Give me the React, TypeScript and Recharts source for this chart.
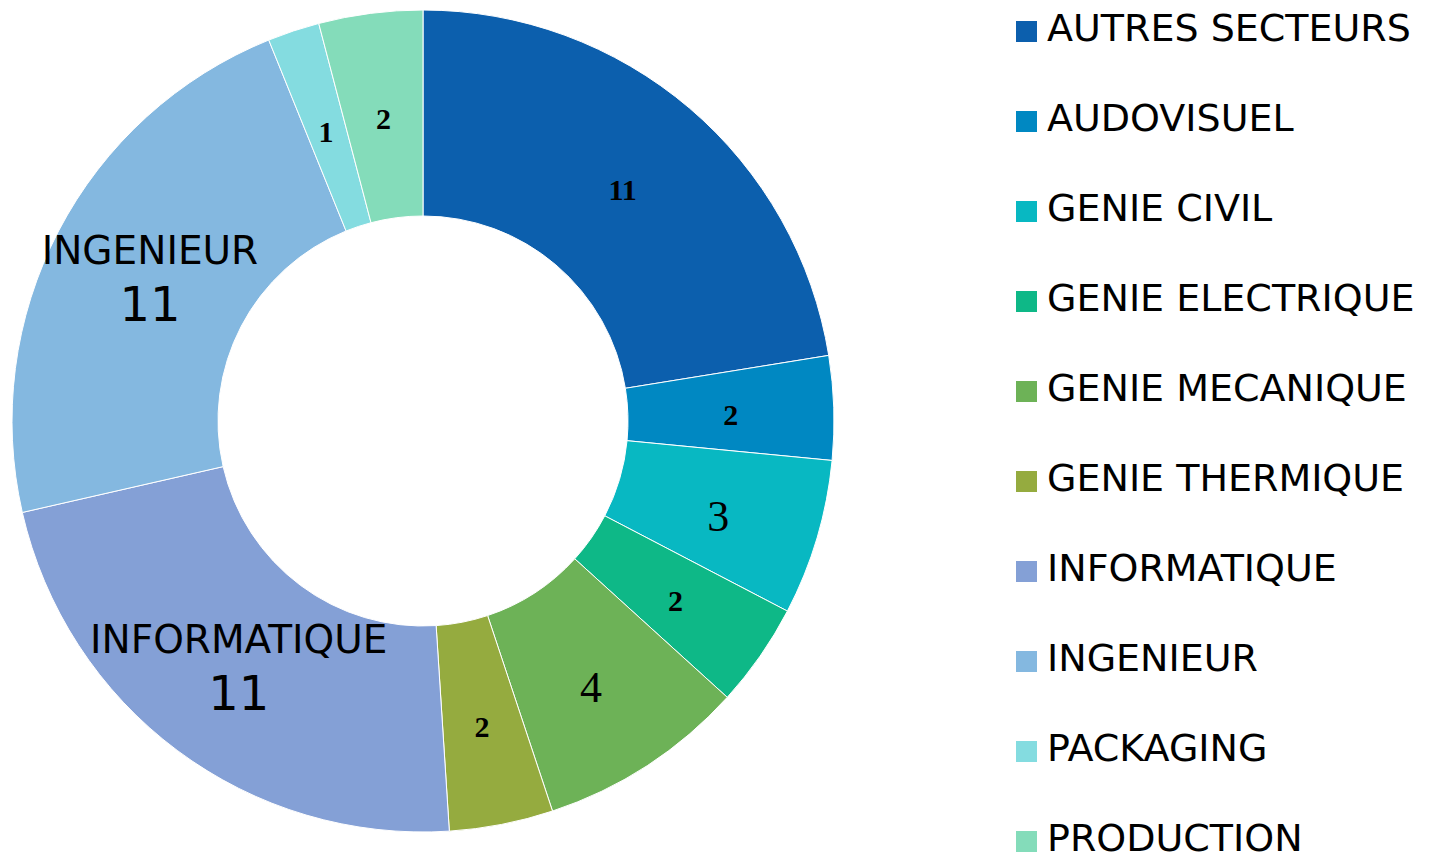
import { Cell, Legend, Pie, PieChart } from 'recharts';

const sectors = [
  'AUTRES SECTEURS',
  'AUDOVISUEL',
  'GENIE CIVIL',
  'GENIE ELECTRIQUE',
  'GENIE MECANIQUE',
  'GENIE THERMIQUE',
  'INFORMATIQUE',
  'INGENIEUR',
  'PACKAGING',
  'PRODUCTION',
];
const counts = [11, 2, 3, 2, 4, 2, 11, 11, 1, 2];
const colors = [
  '#0C5FAD',
  '#0088C2',
  '#08B8C2',
  '#0EB887',
  '#6DB257',
  '#95AB3F',
  '#84A0D6',
  '#84B8E0',
  '#84DCE0',
  '#84DCBA',
];
// slices whose label shows the category name too
const namedLabels = ['INFORMATIQUE', 'INGENIEUR'];

const data = sectors.map((name, i) => ({ name, value: counts[i] }));

const RAD = Math.PI / 180;

const renderLabel = (props: any) => {
  const { cx, cy, midAngle, innerRadius, outerRadius, value, name } = props;
  const r = (innerRadius + outerRadius) / 2;
  const x = cx + r * Math.cos(-midAngle * RAD);
  const y = cy + r * Math.sin(-midAngle * RAD);

  if (namedLabels.includes(name)) {
    return (
      <g>
        <text
          x={x}
          y={y - 28}
          textAnchor="middle"
          dominantBaseline="central"
          fontFamily="DejaVu Sans"
          fontSize={39}
          fill="#000"
        >
          {name}
        </text>
        <text
          x={x}
          y={y + 25}
          textAnchor="middle"
          dominantBaseline="central"
          fontFamily="DejaVu Sans"
          fontSize={48}
          fill="#000"
        >
          {value}
        </text>
      </g>
    );
  }

  const big = value === 3 || value === 4;
  return (
    <text
      x={x}
      y={big ? y + 8 : y + 3}
      textAnchor="middle"
      dominantBaseline="central"
      fontFamily="Liberation Serif"
      fontWeight={big ? 'normal' : 'bold'}
      fontSize={big ? 44 : 30}
      fill="#000"
    >
      {value}
    </text>
  );
};

const LegendContent = () => (
  <div>
    {data.map((d, i) => (
      <div
        key={d.name}
        style={{ display: 'flex', alignItems: 'center', height: 90 }}
      >
        <div
          style={{
            width: 21,
            height: 21,
            marginTop: 6,
            background: colors[i],
            marginRight: 10,
            flexShrink: 0,
          }}
        />
        <span
          style={{
            fontFamily: 'DejaVu Sans',
            fontSize: 38,
            lineHeight: 1,
            color: '#000',
            whiteSpace: 'nowrap',
          }}
        >
          {d.name}
        </span>
      </div>
    ))}
  </div>
);

const App = () => {
  return (
    <div style={{ position: 'absolute', top: 0, left: 0, background: '#fff' }}>
      <PieChart
        width={1431}
        height={853}
        margin={{ top: 0, right: 0, bottom: 0, left: 0 }}
      >
        <Pie
          data={data}
          dataKey="value"
          nameKey="name"
          cx={423}
          cy={421}
          outerRadius={411}
          innerRadius={205}
          startAngle={90}
          endAngle={-270}
          stroke="#fff"
          strokeWidth={1}
          label={renderLabel}
          labelLine={false}
          isAnimationActive={false}
        >
          {data.map((d, i) => (
            <Cell key={d.name} fill={colors[i]} />
          ))}
        </Pie>
        <Legend
          content={<LegendContent />}
          wrapperStyle={{ top: -17, left: 1016, width: 415 }}
        />
      </PieChart>
    </div>
  );
};

export default App;
